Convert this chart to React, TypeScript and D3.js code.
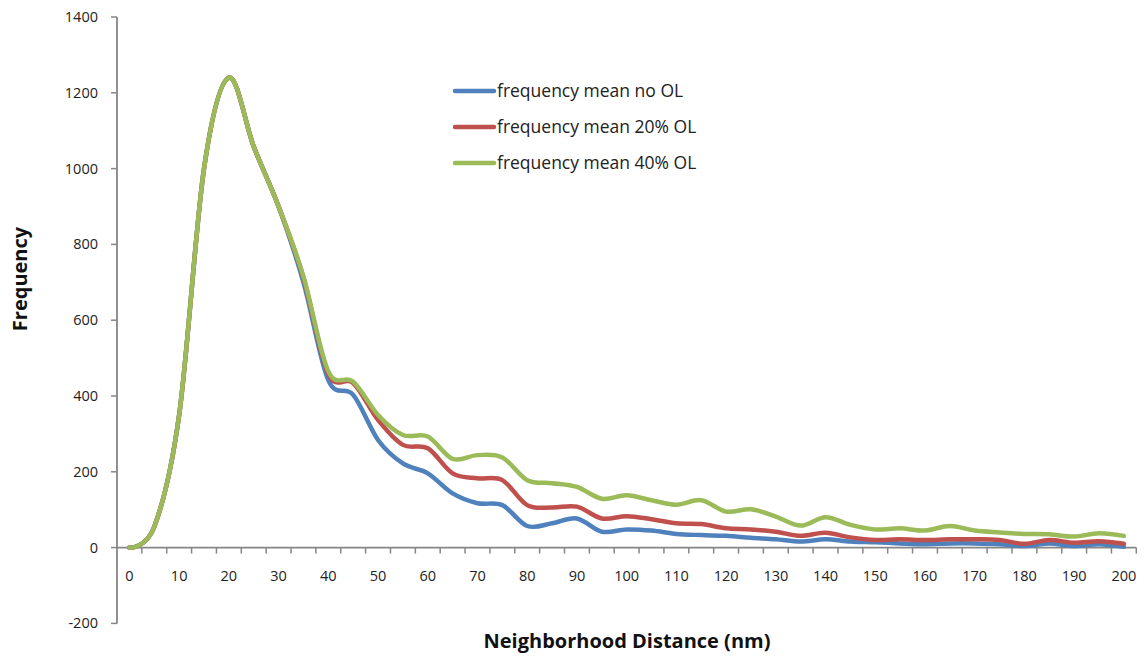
import React from "react";
import * as d3 from "d3";

// Neighborhood distance bins (nm)
const distances: number[] = d3.range(0, 201, 5);

const freqNoOL: number[] = [
  0, 55, 350, 1000, 1240, 1058, 900, 700, 442, 403,
  284, 222, 196, 143, 117, 112, 57, 64, 77, 42,
  48, 45, 36, 33, 31, 26, 22, 16, 22, 16,
  14, 11, 9, 11, 11, 9, 4, 11, 4, 9, 2,
];

const freq20OL: number[] = [
  0, 55, 350, 1000, 1240, 1058, 900, 712, 458, 434,
  337, 271, 262, 196, 183, 178, 112, 106, 108, 77,
  83, 75, 64, 62, 51, 48, 42, 31, 39, 27,
  20, 22, 20, 22, 22, 20, 10, 20, 13, 17, 10,
];

const freq40OL: number[] = [
  0, 55, 350, 1000, 1240, 1058, 900, 715, 465, 438,
  350, 297, 293, 234, 244, 238, 178, 170, 160, 129,
  138, 125, 113, 125, 95, 101, 82, 58, 80, 60,
  48, 51, 45, 57, 45, 40, 36, 35, 29, 38, 31,
];

const seriesNames: string[] = [
  "frequency mean no OL",
  "frequency mean 20% OL",
  "frequency mean 40% OL",
];
const seriesColors: string[] = ["#4F81BD", "#C0504D", "#9BBB59"];
const seriesValues: number[][] = [freqNoOL, freq20OL, freq40OL];

const yTicks: number[] = d3.range(-200, 1401, 200);
const xLabelValues: number[] = d3.range(0, 201, 10);

const FONT = "'Open Sans', 'Liberation Sans', sans-serif";
const AXIS = "#868686";

export default function App() {
  const width = 1145;
  const height = 659;

  const x = d3
    .scaleBand<number>()
    .domain(distances)
    .range([117, 1136.3])
    .paddingInner(0)
    .paddingOuter(0);
  const xc = (v: number) => (x(v) as number) + x.bandwidth() / 2;
  const y = d3.scaleLinear().domain([-200, 1400]).range([623.4, 17]);

  const line = d3
    .line<number>()
    .x((_, i) => xc(distances[i]))
    .y((d) => y(d))
    .curve(d3.curveCardinal.tension(0));

  const y0 = y(0);
  const boundaries = distances.map((d) => (x(d) as number) + x.bandwidth());

  return (
    <svg
      width={width}
      height={height}
      style={{ position: "absolute", left: 0, top: 0, background: "#fff" }}
      fontFamily={FONT}
    >
      {/* Y axis */}
      <line x1={117} x2={117} y1={y(1400)} y2={y(-200)} stroke={AXIS} strokeWidth={1.8} />
      {yTicks.map((t) => (
        <g key={t}>
          <line x1={111} x2={117} y1={y(t)} y2={y(t)} stroke={AXIS} strokeWidth={1.5} />
          <text
            x={98}
            y={y(t)}
            dy="0.35em"
            textAnchor="end"
            fontSize={14.5}
            fill="#222"
          >
            {t}
          </text>
        </g>
      ))}

      {/* X axis at zero */}
      <line x1={117} x2={1136.3} y1={y0} y2={y0} stroke={AXIS} strokeWidth={1.8} />
      {boundaries.map((bx, i) => (
        <line key={i} x1={bx} x2={bx} y1={y0} y2={y0 + 6} stroke={AXIS} strokeWidth={1.5} />
      ))}
      {xLabelValues.map((v) => (
        <text
          key={v}
          x={xc(v)}
          y={581}
          textAnchor="middle"
          fontSize={14.5}
          fill="#222"
        >
          {v}
        </text>
      ))}

      {/* Series */}
      {seriesValues.map((vals, s) => (
        <path
          key={s}
          d={line(vals) || ""}
          fill="none"
          stroke={seriesColors[s]}
          strokeWidth={4.5}
          strokeLinejoin="round"
          strokeLinecap="round"
        />
      ))}

      {/* Legend */}
      {seriesNames.map((name, s) => {
        const ly = 91 + s * 36;
        return (
          <g key={name}>
            <line
              x1={455}
              x2={494}
              y1={ly}
              y2={ly}
              stroke={seriesColors[s]}
              strokeWidth={4.5}
              strokeLinecap="round"
            />
            <text x={497} y={ly} dy="0.35em" fontSize={17.5} fill="#222">
              {name}
            </text>
          </g>
        );
      })}

      {/* Axis titles */}
      <text
        x={627}
        y={648}
        textAnchor="middle"
        fontSize={20}
        fontWeight="bold"
        fill="#111"
      >
        Neighborhood Distance (nm)
      </text>
      <text
        transform="translate(27,279) rotate(-90)"
        textAnchor="middle"
        fontSize={20}
        fontWeight="bold"
        fill="#111"
      >
        Frequency
      </text>
    </svg>
  );
}
